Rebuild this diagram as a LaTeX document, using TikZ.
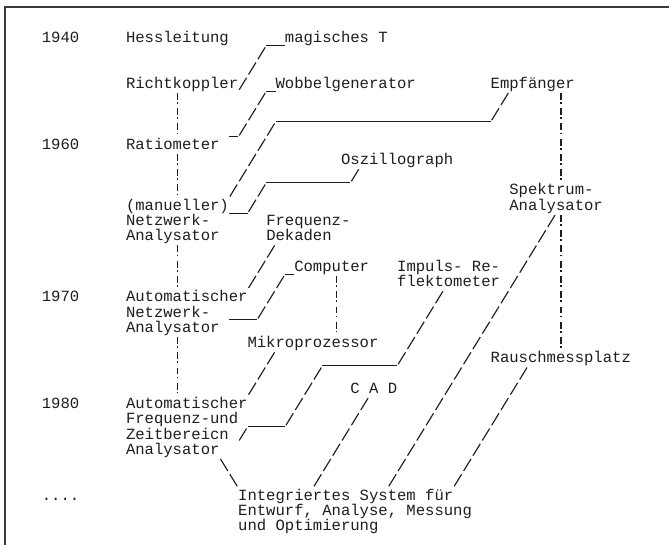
\documentclass[tikz,border=0pt]{standalone}
\usepackage{fontspec}
\newfontfamily\tw{Liberation Mono}
\usetikzlibrary{calc}
\definecolor{ink}{HTML}{1E1E1E}
\definecolor{framegray}{HTML}{3A3A3A}
% label at grid cell (col,row)
\newcommand\mklabel[4]{\node[lbl] (#1) at ({cx(#2)},{ry(#3)+4.5}) {#4};}
% chain of typed slashes: name, top col, top row, number of slashes
\newcommand\slchain[4]{%
  \coordinate (#1t) at ({cx(#2+0.5)+3.66},{ry(#3)-5.97});
  \coordinate (#1b) at ({cx(#2-#4+1.5)-3.66},{ry(#3+#4-1)+5.97});
  \draw[slashline] (#1t) -- (#1b);}
% column of exclamation marks: name, col, first row, last row
\newcommand\bangs[4]{%
  \coordinate (#1t) at ({cx(#2+0.5)},{ry(#3)-6});
  \coordinate (#1b) at ({cx(#2+0.5)},{ry(#4)+4.6});
  \draw[bangline] (#1t) -- (#1b);}
% typed underscores: name, row, first col, last col
\newcommand\uscore[4]{%
  \coordinate (#1l) at ({cx(#3)},{ry(#2)+7.3});
  \coordinate (#1r) at ({cx(#4+1)},{ry(#2)+7.3});
  \draw[underline] (#1l) -- (#1r);}
\begin{document}
\begin{tikzpicture}[x=1pt,y=-1pt,
  declare function={cx(\c)=126+9.35*\c; ry(\r)=38+15.25*\r;},
  lbl/.style={anchor=base west, inner sep=0pt, outer sep=0pt,
    font=\tw\fontsize{15.58}{15.25}\selectfont, text=ink},
  slashline/.style={draw=ink, line width=1.15pt, dash pattern=on 14pt off 3.89pt},
  bangline/.style={draw=ink, line width=1.6pt, dash pattern=on 6.8pt off 2.4pt on 1.6pt off 4.45pt},
  underline/.style={draw=ink, line width=1.05pt},
  frame/.style={draw=framegray, line width=1.6pt}]
\useasboundingbox (0,0) rectangle (669,545);
\fill[white] (0,0) rectangle (669,545);
\draw[frame] (5,545) -- (5,7) -- (669,7);

% ---- labels
\mklabel{y1940}{-9}{0}{1940}
\mklabel{hess}{0}{0}{Hessleitung}
\mklabel{magT}{17}{0}{magisches T}
\mklabel{richt}{0}{3}{Richtkoppler}
\mklabel{wobbel}{16}{3}{Wobbelgenerator}
\mklabel{empf}{39}{3}{Empfänger}
\mklabel{y1960}{-9}{7}{1960}
\mklabel{ratio}{0}{7}{Ratiometer}
\mklabel{oszi}{23}{8}{Oszillograph}
\mklabel{spek}{41}{10}{Spektrum-}
\mklabel{man}{0}{11}{(manueller)}
\mklabel{ana2}{41}{11}{Analysator}
\mklabel{netz1}{0}{12}{Netzwerk-}
\mklabel{freq}{15}{12}{Frequenz-}
\mklabel{ana1}{0}{13}{Analysator}
\mklabel{dek}{15}{13}{Dekaden}
\mklabel{comp}{18}{15}{Computer}
\mklabel{impuls}{29}{15}{Impuls- Re-}
\mklabel{flekt}{29}{16}{flektometer}
\mklabel{y1970}{-9}{17}{1970}
\mklabel{auto1}{0}{17}{Automatischer}
\mklabel{netz2}{0}{18}{Netzwerk-}
\mklabel{ana3}{0}{19}{Analysator}
\mklabel{mikro}{13}{20}{Mikroprozessor}
\mklabel{rausch}{39}{21}{Rauschmessplatz}
\mklabel{cad}{24}{23}{C A D}
\mklabel{y1980}{-9}{24}{1980}
\mklabel{auto2}{0}{24}{Automatischer}
\mklabel{fuz}{0}{25}{Frequenz-und}
\mklabel{zeit}{0}{26}{Zeitbereicn}
\mklabel{ana4}{0}{27}{Analysator}
\mklabel{dots}{-9}{30}{....}
\mklabel{integ}{12}{30}{Integriertes System für}
\mklabel{integb}{12}{31}{Entwurf, Analyse, Messung}
\mklabel{integc}{12}{32}{und Optimierung}

% ---- connectors
% magisches T -> Richtkoppler
\uscore{u1}{0}{15}{16}
\slchain{s1}{14}{1}{3}
% Wobbelgenerator -> Ratiometer
\uscore{u2}{3}{15}{15}
\slchain{s2}{14}{4}{3}
\uscore{u3}{6}{11}{11}
% Empfaenger -> (manueller) Netzwerk-Analysator
\slchain{s3}{40}{4}{2}
\uscore{u4}{5}{16}{38}
\slchain{s4}{15}{6}{5}
% Oszillograph -> (manueller) Netzwerk-Analysator
\slchain{s5}{24}{9}{1}
\uscore{u5}{9}{15}{23}
\slchain{s6}{14}{10}{2}
\uscore{u6}{11}{11}{12}
% Frequenz-Dekaden -> Automatischer Netzwerk-Analysator
\slchain{s7}{15}{14}{3}
% Computer -> Automatischer Netzwerk-Analysator
\uscore{u7}{15}{17}{17}
\slchain{s8}{16}{16}{3}
\uscore{u8}{18}{11}{13}
% Mikroprozessor -> Automatischer Frequenz- und Zeitbereich-Analysator
\slchain{s9}{15}{21}{3}
% Impuls-Reflektometer -> Automatischer Frequenz- und Zeitbereich-Analysator
\slchain{s10}{33}{17}{5}
\uscore{u9}{21}{21}{28}
\slchain{s11}{20}{22}{4}
\uscore{u10}{25}{13}{16}
\slchain{s12}{12}{26}{1}
% Spektrum-Analysator, Rauschmessplatz, CAD -> Integriertes System
\slchain{s13}{45}{12}{18}
\slchain{s14}{42}{22}{8}
\slchain{s15}{25}{24}{6}
% Analysator -> Integriertes System (backslashes)
\coordinate (bkt) at ({cx(10.5)-3.66},{ry(28)-5.97});
\coordinate (bkb) at ({cx(11.5)+3.66},{ry(29)+5.97});
\draw[slashline] (bkt) -- (bkb);
% exclamation-mark columns
\bangs{b1}{5}{4}{6}
\bangs{b2}{5}{8}{10}
\bangs{b3}{5}{14}{16}
\bangs{b4}{5}{20}{23}
\bangs{b5}{22}{16}{19}
\bangs{b6}{46}{4}{9}
\bangs{b7}{46}{12}{20}
\end{tikzpicture}
\end{document}
